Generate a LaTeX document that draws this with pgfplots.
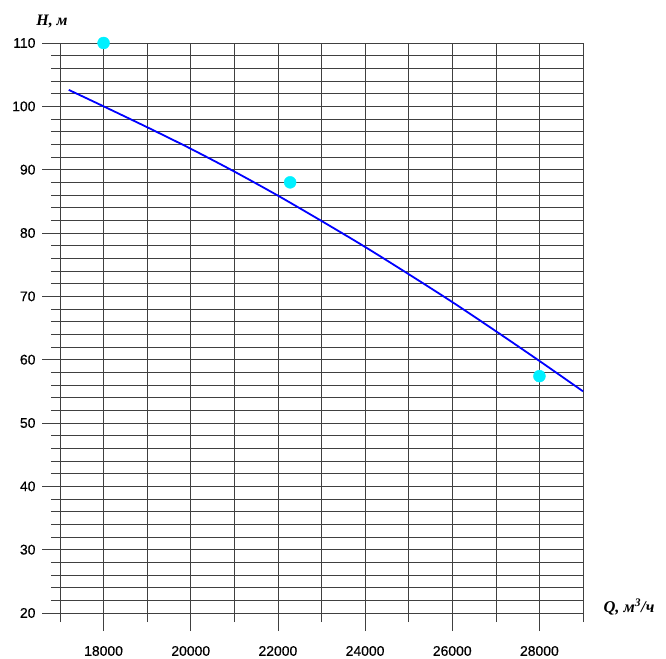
\documentclass[border=0pt]{standalone}
\usepackage{fontspec}
\setmainfont{Liberation Sans}
\newfontfamily\tickfont[FakeBold=0.4]{Liberation Sans}
\newfontfamily\lserif{Liberation Serif}
\usepackage{pgfplots}
\pgfplotsset{compat=1.18}
\begin{document}
\begin{tikzpicture}[x=1bp,y=1bp]
\useasboundingbox (-60,-46) rectangle (606,613);
\begin{axis}[
  at={(0,0)}, anchor=south west,
  scale only axis, width=523bp, height=570bp,
  xmin=17000, xmax=29000, ymin=20, ymax=110,
  xtick={18000,20000,...,28000},
  minor xtick={17000,19000,...,29000},
  ytick={20,30,...,110},
  minor ytick={22,24,26,28,32,34,36,38,42,44,46,48,52,54,56,58,62,64,66,68,72,74,76,78,82,84,86,88,92,94,96,98,102,104,106,108},
  tick pos=left, tick align=outside,
  major tick length=18bp, minor tick length=9bp,
  grid=both,
  major grid style={black!75, line width=0.6bp},
  minor grid style={black!75, line width=0.6bp},
  every tick/.style={black!75, line width=0.6bp},
  axis line style={draw=none},
  /pgf/number format/assume math mode=true,
  /pgf/number format/set thousands separator={},
  scaled x ticks=false,
  ticklabel style={font=\tickfont\fontsize{14}{16}\selectfont},
  xticklabel style={anchor=center, yshift=-20bp},
  yticklabel style={anchor=east, xshift=-3bp},
  clip=false,
]
\addplot[blue, line width=1.8bp, smooth] coordinates {
(17200,102.6) (18000,100.0) (19000,96.7) (20000,93.3) (21000,89.7)
(22000,85.9) (23000,81.9) (24000,77.8) (25000,73.5) (26000,69.1)
(27000,64.5) (28000,59.8) (29000,55.0)
};
\addplot[only marks, mark=*, mark size=6bp, color={rgb,255:red,0;green,240;blue,255}] coordinates {
(18000,110) (22280,88) (28000,57.4)
};
\end{axis}
\node at (-8,591) {\lserif\bfseries\itshape\fontsize{16}{18}\selectfont H, м};
\node at (569,6) {\lserif\bfseries\itshape\fontsize{16.5}{18}\selectfont Q, м\textsuperscript{3}/ч};
\end{tikzpicture}
\end{document}
